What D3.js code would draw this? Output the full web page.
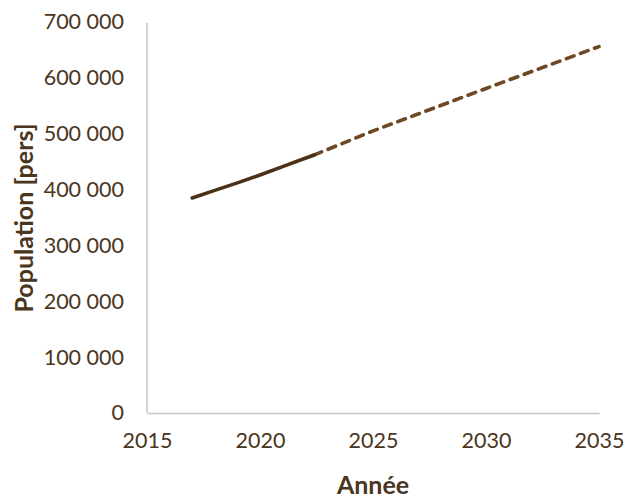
<!DOCTYPE html>
<html>
<head>
<meta charset="utf-8">
<script src="https://cdn.jsdelivr.net/npm/d3@7"></script>
<style>
  html, body { margin: 0; padding: 0; background: #fff; }
  svg { display: block; font-family: Lato, "Noto Sans", sans-serif; }
</style>
</head>
<body>
<svg id="chart" width="630" height="498"></svg>
<script>
// Observed population (solid) and projection (dashed)
const observedYears = [2017, 2018, 2019, 2020, 2021, 2022, 2022.4];
const observedPop   = [385000, 398500, 412000, 426000, 441000, 456000, 462000];
const projectedYears = [2022.4, 2025, 2030, 2035];
const projectedPop   = [462000, 505000, 581000, 656000];

const xTicks = [2015, 2020, 2025, 2030, 2035];
const yTicks = [0, 100000, 200000, 300000, 400000, 500000, 600000, 700000];

const textColor = "#4a3520";
const axisColor = "#c3c3c3";

const svg = d3.select("#chart");
const x = d3.scaleLinear().domain([2015, 2035]).range([147, 599]);
const y = d3.scaleLinear().domain([0, 700000]).range([413, 22]);

const fr = d3.formatLocale({ decimal: ",", thousands: "\u00a0", grouping: [3], currency: ["", " €"] });
const fmt = fr.format(",d");

// Y axis
const yAxis = svg.append("g")
  .attr("transform", `translate(${x.range()[0]},0)`)
  .call(d3.axisLeft(y).tickValues(yTicks).tickFormat(fmt).tickSize(0).tickPadding(23));
yAxis.select(".domain").attr("stroke", axisColor).attr("stroke-width", 1.5)
  .attr("d", `M0,${y(0)}V23`);
yAxis.selectAll("text").attr("fill", textColor).style("font-size", "21.5px")
  .style("font-family", "Lato, 'Noto Sans', sans-serif").attr("dy", "0.32em");

// X axis
const xAxis = svg.append("g")
  .attr("transform", `translate(0,${y(0)})`)
  .call(d3.axisBottom(x).tickValues(xTicks).tickFormat(d3.format("d")).tickSize(0).tickPadding(20));
xAxis.select(".domain").attr("stroke", axisColor).attr("stroke-width", 1.5);
xAxis.selectAll("text").attr("fill", textColor).style("font-size", "21.5px")
  .style("font-family", "Lato, 'Noto Sans', sans-serif");

// Axis titles
svg.append("text")
  .attr("transform", `translate(33,${(y(0) + 23) / 2}) rotate(-90)`)
  .attr("text-anchor", "middle")
  .attr("fill", textColor)
  .style("font-size", "25px").style("font-weight", "bold")
  .text("Population [pers]");

svg.append("text")
  .attr("x", (x.range()[0] + x.range()[1]) / 2)
  .attr("y", 494)
  .attr("text-anchor", "middle")
  .attr("fill", textColor)
  .style("font-size", "25px").style("font-weight", "bold")
  .text("Année");

const line = d3.line().x(d => x(d[0])).y(d => y(d[1]));

// Projection (dashed)
svg.append("path")
  .datum(d3.zip(projectedYears, projectedPop))
  .attr("d", line)
  .attr("fill", "none")
  .attr("stroke", "#6e4824")
  .attr("stroke-width", 3.6)
  .attr("stroke-linecap", "round")
  .attr("stroke-dasharray", "8,7");

// Observed (solid)
svg.append("path")
  .datum(d3.zip(observedYears, observedPop))
  .attr("d", line)
  .attr("fill", "none")
  .attr("stroke", "#4b3119")
  .attr("stroke-width", 3.6)
  .attr("stroke-linecap", "round")
  .attr("stroke-linejoin", "round");
</script>
</body>
</html>
